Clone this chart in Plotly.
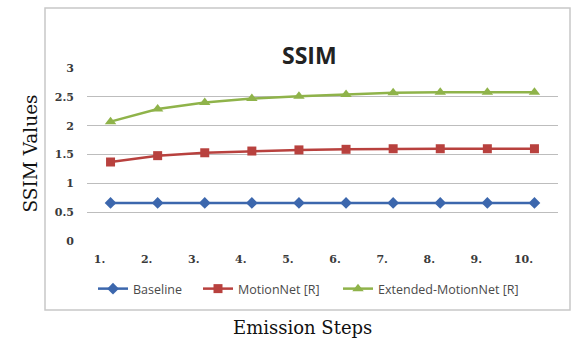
import plotly.graph_objects as go

# Emission steps on the category axis and their tick labels
steps = ["1.", "2.", "3.", "4.", "5.", "6.", "7.", "8.", "9.", "10."]

# SSIM values per method
baseline = [0.66, 0.66, 0.66, 0.66, 0.66, 0.66, 0.66, 0.66, 0.66, 0.66]
motionnet = [1.37, 1.48, 1.53, 1.56, 1.58, 1.59, 1.60, 1.60, 1.60, 1.60]
extended = [2.07, 2.29, 2.40, 2.47, 2.51, 2.54, 2.57, 2.58, 2.58, 2.58]

W, H = 571, 354
ML, MR, MT, MB = 87, 13, 68, 113
PW, PH = W - ML - MR, H - MT - MB


def px_x(x):
    return (x - ML) / PW


def px_y(y):
    return (H - MB - y) / PH


fig = go.Figure()
fig.add_trace(go.Scatter(
    x=steps, y=baseline, name="Baseline", mode="lines+markers", legend="legend",
    line=dict(color="#3c67ad", width=2.5),
    marker=dict(symbol="diamond", size=9, color="#3c67ad"),
))
fig.add_trace(go.Scatter(
    x=steps, y=motionnet, name="MotionNet [R]", mode="lines+markers", legend="legend2",
    line=dict(color="#b8413e", width=2.5),
    marker=dict(symbol="square", size=9, color="#b8413e"),
))
fig.add_trace(go.Scatter(
    x=steps, y=extended, name="Extended-MotionNet [R]", mode="lines+markers", legend="legend3",
    line=dict(color="#8fb34a", width=2.5),
    marker=dict(symbol="triangle-up", size=10, color="#8fb34a"),
))

# chart-area frame
fig.add_shape(
    type="rect", xref="paper", yref="paper",
    x0=px_x(45), x1=px_x(570), y0=px_y(310), y1=px_y(8),
    line=dict(color="#c8c8c8", width=1.5), fillcolor="rgba(0,0,0,0)", layer="below",
)

fig.add_annotation(
    text="<b>SSIM</b>", xref="paper", yref="paper",
    x=px_x(309), y=px_y(37), showarrow=False,
    font=dict(family="Open Sans", size=23, color="#222222"),
)
fig.add_annotation(
    text="SSIM Values", xref="paper", yref="paper",
    x=px_x(17), y=px_y(154), showarrow=False, textangle=-90,
    font=dict(family="DejaVu Serif", size=18.5, color="#111111"),
)
fig.add_annotation(
    text="Emission Steps", xref="paper", yref="paper",
    x=px_x(302), y=px_y(340), showarrow=False,
    font=dict(family="DejaVu Serif", size=18, color="#111111"),
)

legend_style = dict(
    orientation="h", xanchor="left", yanchor="middle", y=px_y(289),
    font=dict(family="Open Sans", size=12.5, color="#4a4a4a"),
    itemwidth=30, tracegroupgap=0, bgcolor="rgba(0,0,0,0)",
)

fig.update_layout(
    width=W, height=H,
    margin=dict(l=ML, r=MR, t=MT, b=MB),
    paper_bgcolor="white", plot_bgcolor="white",
    showlegend=True,
    legend=dict(x=px_x(93), **legend_style),
    legend2=dict(x=px_x(198), **legend_style),
    legend3=dict(x=px_x(338), **legend_style),
    xaxis=dict(
        type="category", range=[-0.5, 9.5], showgrid=False, showline=False,
        zeroline=False, ticks="", ticklabelshift=-11, ticklabelstandoff=10,
        tickfont=dict(family="DejaVu Serif", size=11, color="#3a3a3a", weight="bold"),
    ),
    yaxis=dict(
        range=[0, 3], tickvals=[0, 0.5, 1, 1.5, 2, 2.5, 3],
        ticktext=["0", "0.5", "1", "1.5", "2", "2.5", "3"],
        showgrid=True, gridcolor="#bdbdbd", gridwidth=1, zeroline=False,
        showline=False, ticks="", ticklabelstandoff=12,
        tickfont=dict(family="DejaVu Serif", size=11, color="#3a3a3a", weight="bold"),
    ),
)

fig.write_html("out.html")
